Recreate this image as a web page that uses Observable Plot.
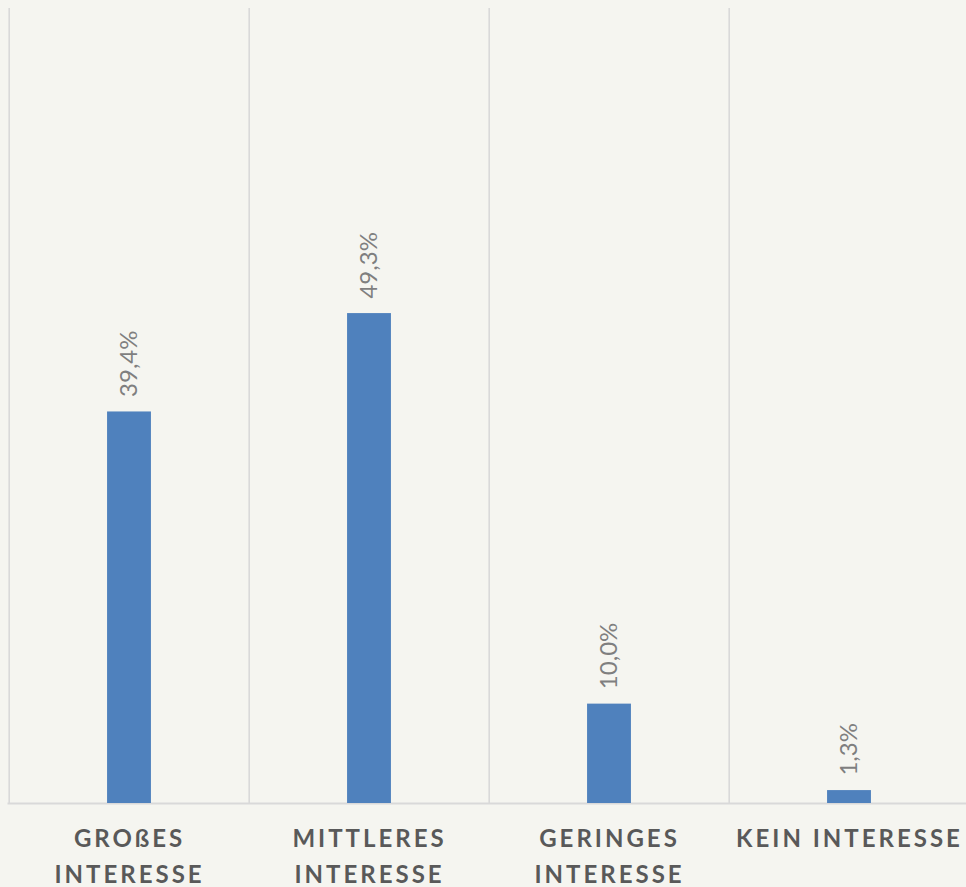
<!DOCTYPE html>
<html><head><meta charset="utf-8">
<script src="https://cdn.jsdelivr.net/npm/d3@7"></script>
<script src="https://cdn.jsdelivr.net/npm/@observablehq/plot@0.6"></script>
<style>
html,body{margin:0;padding:0;background:#f5f5f0;}
#chart svg{display:block;}
</style>
</head><body><div id="chart"></div>
<script>
const categories = ["Großes Interesse", "Mittleres Interesse", "Geringes Interesse", "Kein Interesse"];
const values = [39.4, 49.3, 10.0, 1.3];
const tickLabels = ["GROßES\nINTERESSE", "MITTLERES\nINTERESSE", "GERINGES\nINTERESSE", "KEIN INTERESSE"];
const valueLabels = ["39,4%", "49,3%", "10,0%", "1,3%"];

const data = categories.map((c, i) => ({cat: c, value: values[i], label: valueLabels[i], tick: tickLabels[i]}));

const W = 966, H = 887, mL = 7.5, mR = -4;
const step = (W - mL - mR) / categories.length;

const chart = Plot.plot({
  width: W, height: H,
  marginLeft: mL, marginRight: mR, marginTop: 8, marginBottom: 84,
  style: {background: "#f5f5f0", fontFamily: "Lato, 'Open Sans', sans-serif", overflow: "visible"},
  x: {type: "band", domain: categories, padding: 0},
  y: {domain: [0, 80], axis: null},
  marks: [
    Plot.ruleX(categories, {x: d => d, dx: -step / 2, stroke: "#d9d9d9", strokeWidth: 1.6}),
    Plot.ruleY([0], {stroke: "#d9d9d9", strokeWidth: 2}),
    Plot.barY(data, {x: "cat", y: "value", fill: "#4f81bd", insetLeft: (step - 44.5) / 2, insetRight: (step - 44.5) / 2}),
    Plot.text(data, {x: "cat", y: "value", text: "label", rotate: -90, textAnchor: "start", dy: -15, fill: "#7f7f7f", fontSize: 24, fontFamily: "Lato, sans-serif"}),
    Plot.axisX({tickSize: 0, tickPadding: 18, tickFormat: (d, i) => data.find(e => e.cat === d).tick, fontSize: 24, fontWeight: "bold", fill: "#595959", lineHeight: 1.5, lineAnchor: "top", label: null})
  ]
});
chart.querySelectorAll("g[aria-label='x-axis tick label'] text, g[aria-label='x-axis tick label']").forEach(t => t.style.letterSpacing = "3px");
document.getElementById("chart").appendChild(chart);
</script>
</body></html>
